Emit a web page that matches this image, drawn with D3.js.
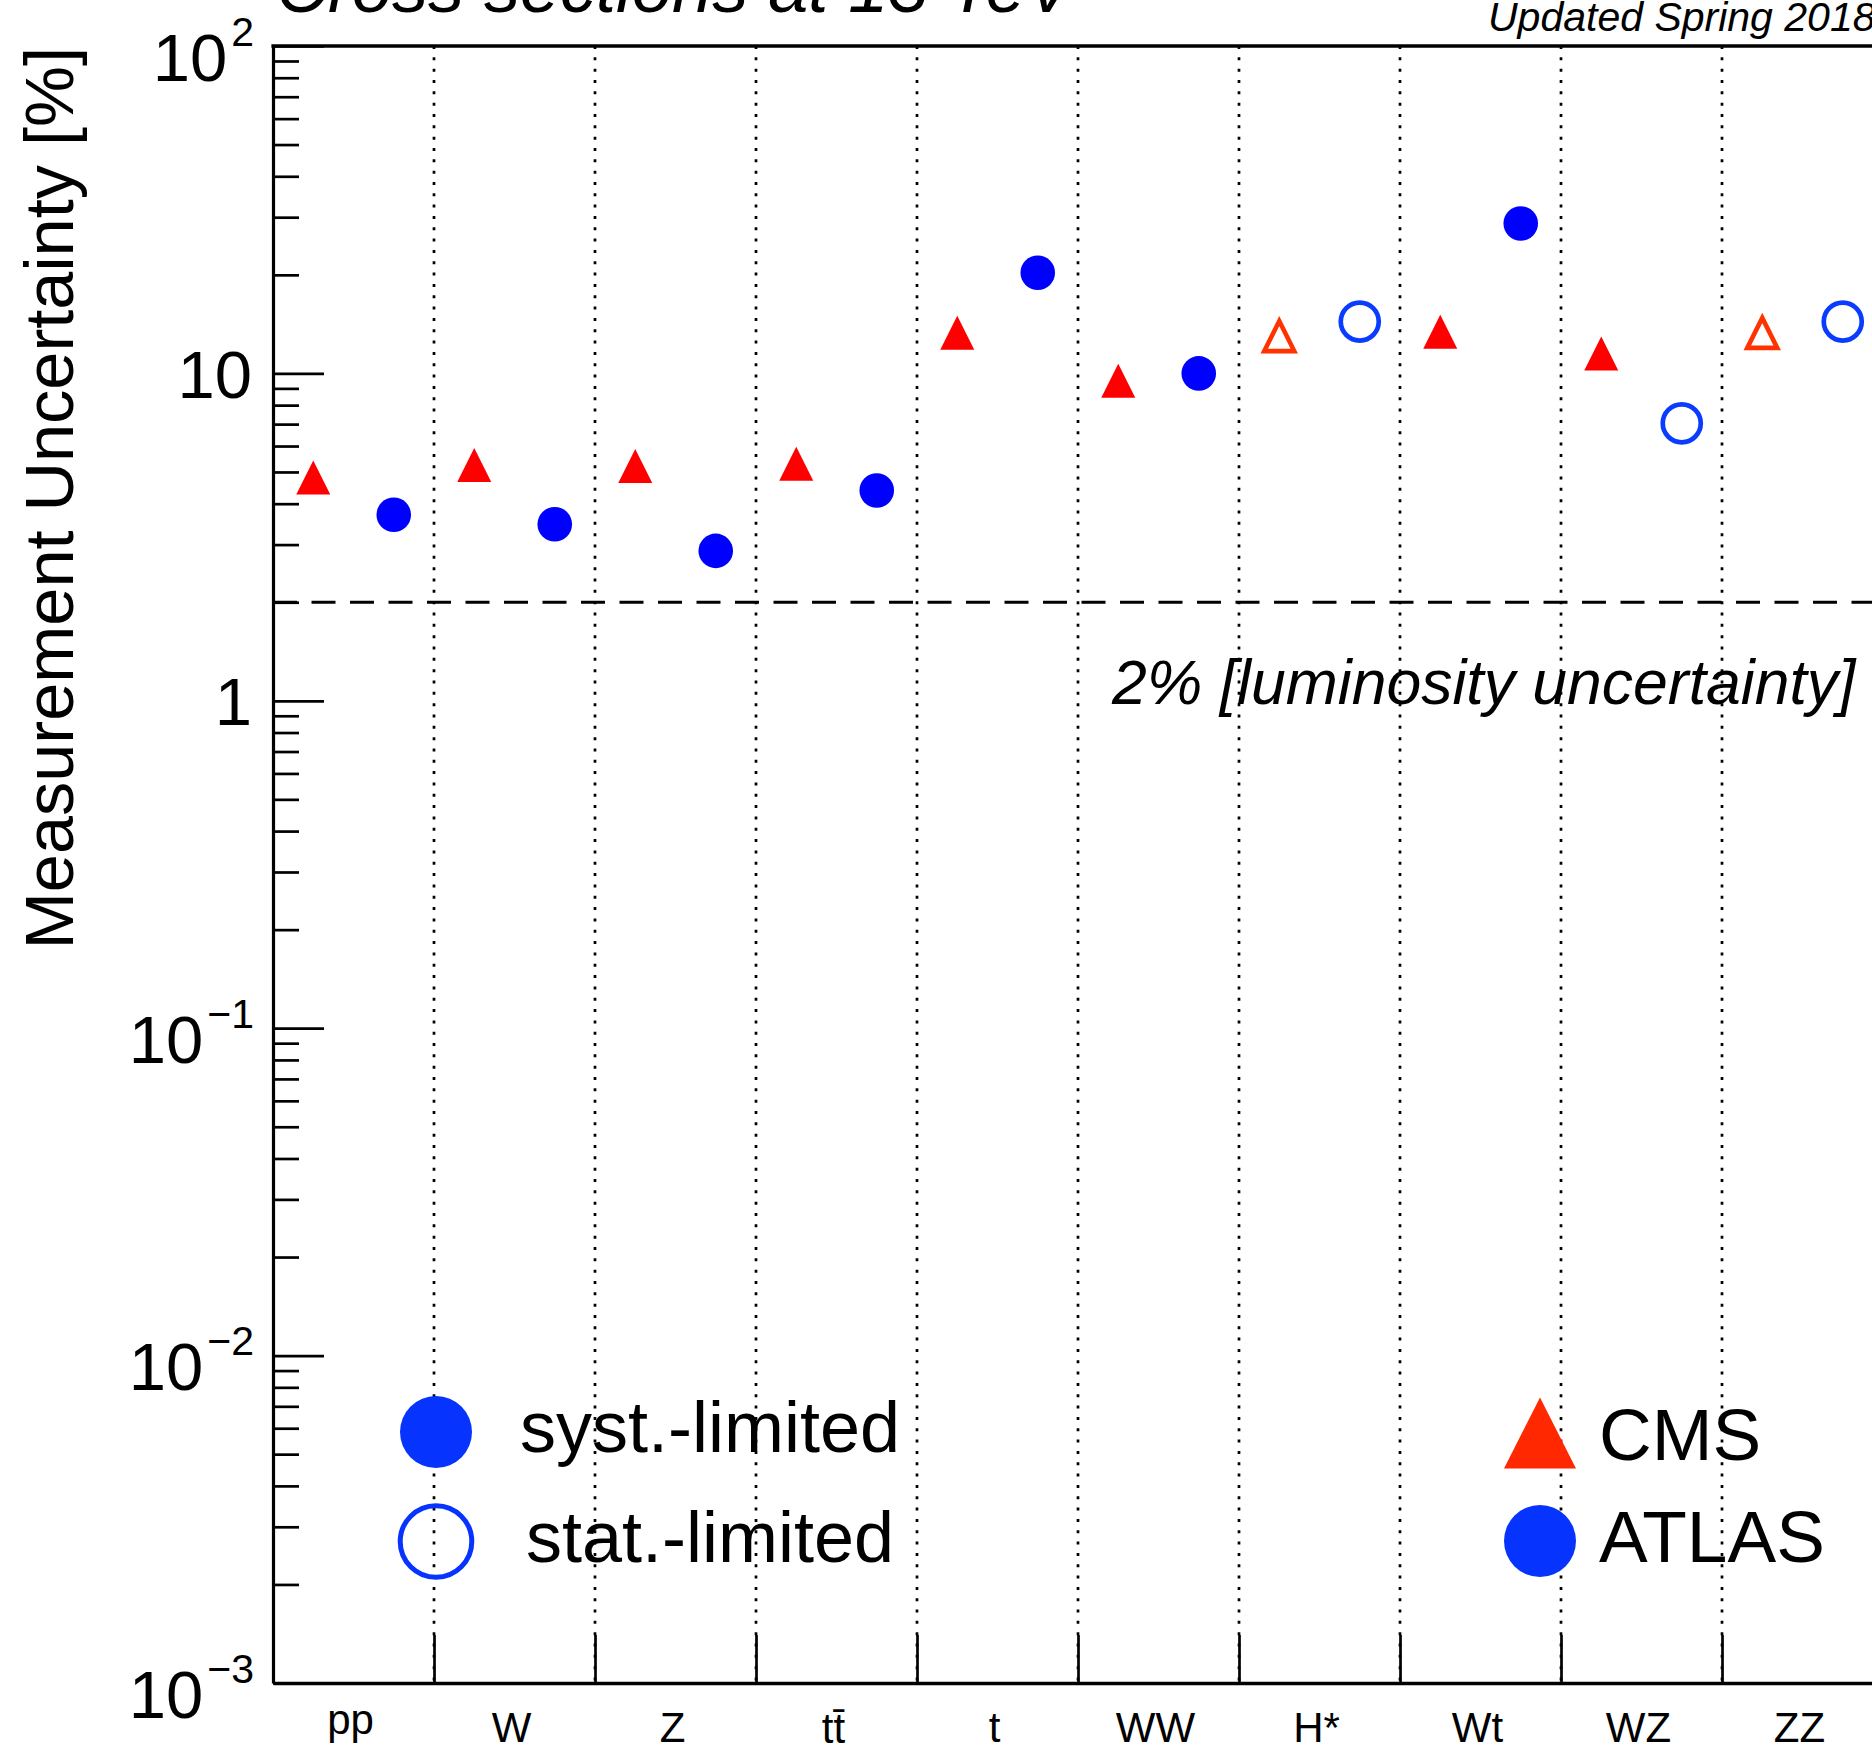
<!DOCTYPE html>
<html>
<head>
<meta charset="utf-8">
<script src="https://cdn.jsdelivr.net/npm/d3@7"></script>
<style>
  body { margin: 0; background: #fff; }
  svg { display: block; }
  text { font-family: "Liberation Sans", Arial, Helvetica, sans-serif; fill: #000; }
</style>
</head>
<body>
<svg id="chart" width="1872" height="1752"></svg>
<script>
// Processes measured at 13 TeV, one CMS and one ATLAS result per process
const categories = ["pp", "W", "Z", "tt\u0304", "t", "WW", "H*", "Wt", "WZ", "ZZ"];
const experiments = ["CMS", "ATLAS"];

// Relative measurement uncertainty [%]
const cmsValues   = [4.81, 5.25, 5.21, 5.30, 13.3, 9.50, 13.0, 13.4, 11.5, 13.3];
const atlasValues = [3.70, 3.46, 2.87, 4.39, 20.3, 10.0, 14.4, 28.7, 7.04, 14.4];

// Which part of the error dominates each result
const cmsLimit   = ["syst", "syst", "syst", "syst", "syst", "syst", "stat", "syst", "syst", "stat"];
const atlasLimit = ["syst", "syst", "syst", "syst", "syst", "syst", "stat", "syst", "stat", "stat"];

// Luminosity uncertainty reference line [%]
const lumiUncertainty = 2;

// Decade labels on the vertical axis: [mantissa, exponent]
const yMajorTicks  = [1e-3, 1e-2, 1e-1, 1, 10, 100];
const yTickLabels  = [["10", "\u22123"], ["10", "\u22122"], ["10", "\u22121"], ["1", ""], ["10", ""], ["10", "2"]];

const titleText  = "Cross sections at 13 TeV";
const updateText = "Updated Spring 2018";
const yTitle     = "Measurement Uncertainty [%]";
const lumiText   = "2% [luminosity uncertainty]";
const limitLabels = ["syst.-limited", "stat.-limited"];

// ---------------------------------------------------------------------------
const W = 1872, H = 1752;
const plot = { left: 273, right: 1883, top: 46, bottom: 1683 };

const colors = {
  cms: "#ff0000", cmsOpen: "#ff3300",
  atlas: "#0000ff", atlasOpen: "#0a3cff",
  legendCms: "#ff2800", legendAtlas: "#0733ff"
};

const svg = d3.select("#chart");
svg.append("rect").attr("width", W).attr("height", H).attr("fill", "#fff");

const x = d3.scaleBand().domain(categories).range([plot.left, plot.right]);
const xEdge = d3.scaleLinear().domain([0, categories.length]).range([plot.left, plot.right]);
const slot = d3.scaleOrdinal().domain(experiments).range([0.25, 0.75]);
const y = d3.scaleLog().domain([1e-3, 1e2]).range([plot.bottom, plot.top]);

const points = [];
categories.forEach((c, i) => {
  points.push({ cat: c, exp: "CMS", value: cmsValues[i], limit: cmsLimit[i] });
  points.push({ cat: c, exp: "ATLAS", value: atlasValues[i], limit: atlasLimit[i] });
});
const px = d => x(d.cat) + slot(d.exp) * x.bandwidth();

// Marker shapes (bounding box centred on the point)
function trianglePath(w, h) {
  return `M0,${-h / 2}L${w / 2},${h / 2}L${-w / 2},${h / 2}Z`;
}

// ---------------------------------------------------------------------------
// Category separators: dotted lines through the whole frame
const boundaries = d3.range(1, categories.length);
svg.append("g")
  .selectAll("line")
  .data(boundaries)
  .join("line")
  .attr("x1", d => xEdge(d)).attr("x2", d => xEdge(d))
  .attr("y1", plot.top).attr("y2", plot.bottom)
  .attr("stroke", "#000")
  .attr("stroke-width", 2.7)
  .attr("stroke-dasharray", "3,8.33");

// Luminosity reference line
svg.append("line")
  .attr("x1", plot.left).attr("x2", plot.right)
  .attr("y1", y(lumiUncertainty)).attr("y2", y(lumiUncertainty))
  .attr("stroke", "#000")
  .attr("stroke-width", 3)
  .attr("stroke-dasharray", "24,14.5");

svg.append("text")
  .attr("x", 1112).attr("y", 704)
  .style("font-size", "62.5px").style("font-style", "italic")
  .text(lumiText);

// Bottom axis: solid separator ticks pointing up
const xAxis = svg.append("g")
  .attr("transform", `translate(0,${plot.bottom})`)
  .call(d3.axisTop(xEdge).tickValues(boundaries).tickSize(48).tickSizeOuter(0).tickFormat(""));
xAxis.select(".domain").attr("stroke-width", 3.5);
xAxis.selectAll(".tick line").attr("stroke-width", 2.7);

// Category names under the axis
const xLabels = svg.append("g")
  .attr("transform", `translate(0,${plot.bottom})`)
  .call(d3.axisBottom(x).tickSize(0));
xLabels.select(".domain").remove();
xLabels.selectAll(".tick text")
  .attr("font-family", null).attr("font-size", null)
  .style("font-size", "42px")
  .attr("dy", null)
  .attr("dx", -3)
  .attr("y", d => /[pgy]/.test(d) ? 51 : (d.includes("\u0304") ? 60 : 59));

// Vertical axis: major and minor ticks pointing into the frame
const yMinor = y.ticks().filter(v => !yMajorTicks.some(m => Math.abs(m - v) / m < 1e-9));

const yAxisMinor = svg.append("g")
  .attr("transform", `translate(${plot.left},0)`)
  .call(d3.axisRight(y).tickValues(yMinor).tickSize(26).tickSizeOuter(0).tickFormat(""));
yAxisMinor.selectAll(".tick line").attr("stroke-width", 2.7);
yAxisMinor.select(".domain").attr("stroke-width", 3.2);

const yAxisMajor = svg.append("g")
  .attr("transform", `translate(${plot.left},0)`)
  .call(d3.axisRight(y).tickValues(yMajorTicks).tickSize(51).tickSizeOuter(0).tickFormat(""));
yAxisMajor.select(".domain").remove();
yAxisMajor.selectAll(".tick line").attr("stroke-width", 2.7);

yAxisMajor.selectAll(".tick").each(function (d) {
  const [base, sup] = yTickLabels[yMajorTicks.indexOf(d)];
  const t = d3.select(this).append("text")
    .attr("text-anchor", "end")
    .attr("x", sup ? -19 : -21)
    .attr("y", sup ? 34 : 24)
    .style("font-size", "67px");
  t.append("tspan").text(base);
  if (sup) {
    t.append("tspan").attr("dx", 4).attr("dy", -35).style("font-size", "41px").text(sup);
  }
});

// Top frame line and right edge
svg.append("line")
  .attr("x1", plot.left - 1.6).attr("x2", plot.right)
  .attr("y1", plot.top).attr("y2", plot.top)
  .attr("stroke", "#000").attr("stroke-width", 3.5);
svg.append("line")
  .attr("x1", plot.right).attr("x2", plot.right)
  .attr("y1", plot.top).attr("y2", plot.bottom)
  .attr("stroke", "#000").attr("stroke-width", 3.5);

// ---------------------------------------------------------------------------
// Measurements
const marks = svg.append("g");

marks.selectAll("path.cms")
  .data(points.filter(d => d.exp === "CMS"))
  .join("path")
  .attr("class", "cms")
  .attr("transform", d => `translate(${px(d)},${y(d.value)})`)
  .attr("d", d => d.limit === "syst" ? trianglePath(34, 34) : trianglePath(30, 30))
  .attr("fill", d => d.limit === "syst" ? colors.cms : "none")
  .attr("stroke", d => d.limit === "syst" ? "none" : colors.cmsOpen)
  .attr("stroke-width", 4.6)
  .attr("stroke-linejoin", "miter");

marks.selectAll("circle.atlas")
  .data(points.filter(d => d.exp === "ATLAS"))
  .join("circle")
  .attr("class", "atlas")
  .attr("cx", px)
  .attr("cy", d => y(d.value))
  .attr("r", d => d.limit === "syst" ? 17.3 : 19)
  .attr("fill", d => d.limit === "syst" ? colors.atlas : "none")
  .attr("stroke", d => d.limit === "syst" ? "none" : colors.atlasOpen)
  .attr("stroke-width", 4.7);

// ---------------------------------------------------------------------------
// Legends
const legLimit = svg.append("g");
legLimit.append("circle").attr("cx", 436).attr("cy", 1432).attr("r", 36).attr("fill", colors.legendAtlas);
legLimit.append("circle").attr("cx", 436).attr("cy", 1541.5).attr("r", 35.8)
  .attr("fill", "none").attr("stroke", colors.legendAtlas).attr("stroke-width", 5);
legLimit.selectAll("text")
  .data(limitLabels)
  .join("text")
  .attr("x", 710)
  .attr("y", (d, i) => i === 0 ? 1452 : 1562)
  .attr("text-anchor", "middle")
  .style("font-size", "72px")
  .text(d => d);

const legExp = svg.append("g");
legExp.append("path")
  .attr("transform", "translate(1540,1433)")
  .attr("d", trianglePath(72, 71))
  .attr("fill", colors.legendCms);
legExp.append("circle").attr("cx", 1540).attr("cy", 1541).attr("r", 36).attr("fill", colors.legendAtlas);
legExp.selectAll("text")
  .data(experiments)
  .join("text")
  .attr("x", 1599)
  .attr("y", (d, i) => i === 0 ? 1460 : 1562)
  .style("font-size", "73px")
  .text(d => d);

// ---------------------------------------------------------------------------
// Titles
svg.append("text")
  .attr("x", 276).attr("y", 12)
  .style("font-size", "72px").style("font-style", "italic")
  .text(titleText);

svg.append("text")
  .attr("x", 1488).attr("y", 31)
  .style("font-size", "41px").style("font-style", "italic")
  .text(updateText);

svg.append("text")
  .attr("transform", "translate(73,47) rotate(-90)")
  .attr("text-anchor", "end")
  .style("font-size", "68.5px")
  .text(yTitle);
</script>
</body>
</html>
